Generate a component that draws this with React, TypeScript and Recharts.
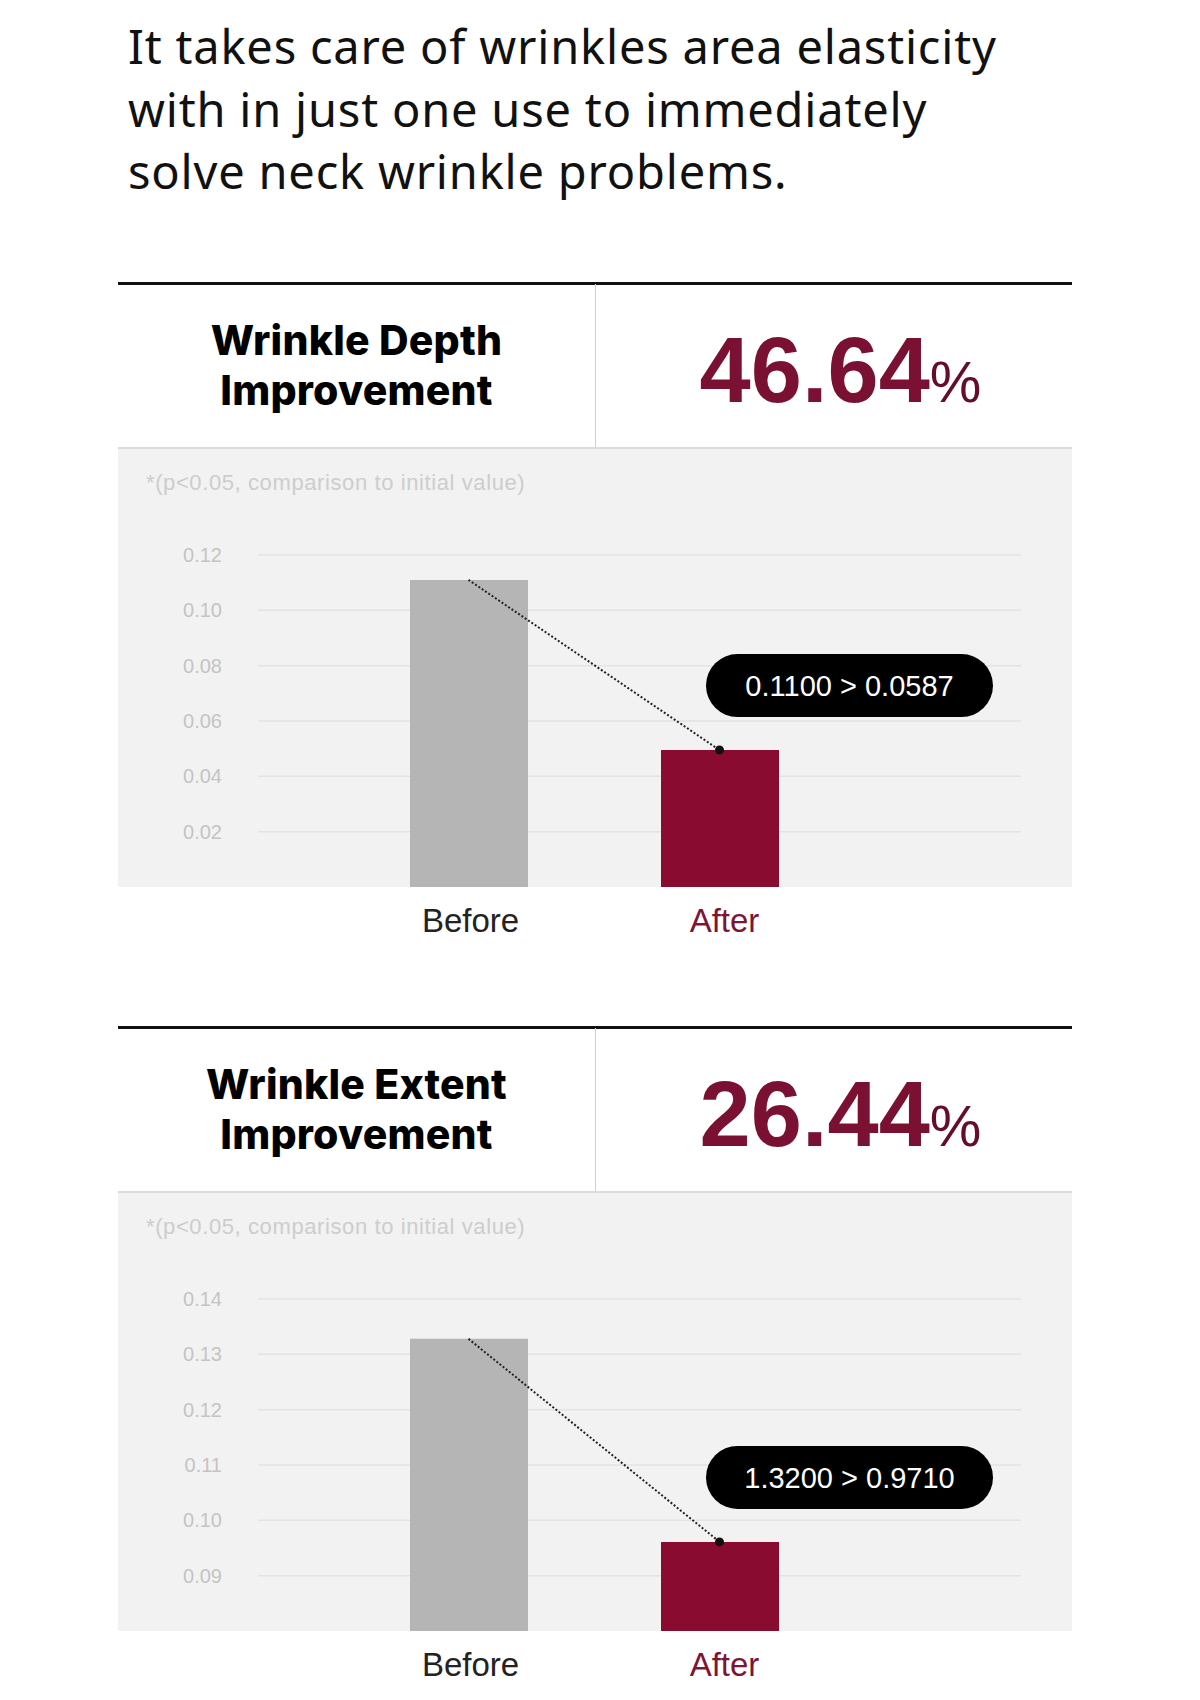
import { Bar, CartesianGrid, Cell, ComposedChart, LabelList, Line, XAxis, YAxis } from "recharts";

const categories = ["Before", "After"];

const depthValues = [0.111, 0.0495];
const depthTicks = [0.02, 0.04, 0.06, 0.08, 0.1, 0.12];
const depthDomain = [0, 0.12];
const depthTitle = ["Wrinkle Depth", "Improvement"];
const depthRate = "46.64";
const depthCompare = "0.1100 > 0.0587";

const extentValues = [0.1328, 0.0961];
const extentTicks = [0.09, 0.1, 0.11, 0.12, 0.13, 0.14];
const extentDomain = [0.08, 0.14];
const extentTitle = ["Wrinkle Extent", "Improvement"];
const extentRate = "26.44";
const extentCompare = "1.3200 > 0.9710";

const headline = [
  "It takes care of wrinkles area elasticity",
  "with in just one use to immediately",
  "solve neck wrinkle problems.",
];
const note = "*(p<0.05, comparison to initial value)";

const barColors = ["#b5b5b5", "#8a0b30"];
const labelColors = ["#222222", "#7d1535"];
const SANS = "'Liberation Sans', Arial, sans-serif";

interface SectionProps {
  top: number;
  title: string[];
  rate: string;
  values: number[];
  ticks: number[];
  domain: number[];
  compare: string;
}

function Section({ top, title, rate, values, ticks, domain, compare }: SectionProps) {
  const data = categories.map((name, i) => ({ name, value: values[i] }));

  const renderDot = (p: any) => {
    if (p.index !== 1) return <g key={`d${p.index}`} />;
    return <circle key={`d${p.index}`} cx={p.cx} cy={p.cy} r={4.5} fill="#111" />;
  };

  const renderPill = (p: any) => {
    if (p.index !== 1) return null;
    const px = Number(p.x) + 45;
    const py = Number(p.y) - 96;
    return (
      <g>
        <rect x={px} y={py} width={287} height={63} rx={31.5} fill="#000" />
        <text x={px + 143.5} y={py + 32} textAnchor="middle" dominantBaseline="central"
          fill="#fff" fontSize={29} fontFamily={SANS}>{compare}</text>
      </g>
    );
  };

  const renderXTick = (p: any) => {
    const i = categories.indexOf(p.payload.value);
    return (
      <text x={p.x} y={p.y} dx={i === 1 ? 5 : 2} dy={45} textAnchor="middle" fill={labelColors[i]}
        fontSize={33} fontFamily={SANS}>{p.payload.value}</text>
    );
  };

  return (
    <div style={{ position: "absolute", left: 0, top, width: 1200, height: 690 }}>
      <div style={{ position: "absolute", left: 118, top: -2, width: 954, height: 3, background: "#111" }} />
      <div style={{ position: "absolute", left: 595, top: 0, width: 1, height: 165, background: "#cfcfcf" }} />
      <div style={{ position: "absolute", left: 118, top: 163, width: 954, height: 2, background: "#dddddd" }} />
      <div style={{ position: "absolute", left: 118, top: 165, width: 954, height: 438, background: "#f2f2f2" }} />
      <div style={{ position: "absolute", left: 118, top: 31, width: 477, textAlign: "center",
        fontFamily: "Inter, sans-serif", fontWeight: 800, fontSize: 41, lineHeight: "50px",
        color: "#000", letterSpacing: 0.2 }}>
        {title.map((t) => <div key={t}>{t}</div>)}
      </div>
      <div style={{ position: "absolute", left: 602, top: 36, width: 477, textAlign: "center",
        fontFamily: SANS, fontWeight: 700, color: "#7b1132", lineHeight: "100px", whiteSpace: "nowrap" }}>
        <span style={{ fontSize: 92 }}>{rate}</span>
        <span style={{ fontSize: 58, fontWeight: 400, color: "#650d29" }}>%</span>
      </div>
      <div style={{ position: "absolute", left: 146, top: 186, fontFamily: SANS, fontSize: 22,
        lineHeight: "26px", color: "#cdcdcd", letterSpacing: 0.6, whiteSpace: "nowrap" }}>{note}</div>
      <div style={{ position: "absolute", left: 118, top: 165 }}>
        <ComposedChart width={954} height={520} data={data} margin={{ top: 106, right: 51, left: 0, bottom: 0 }}>
          <CartesianGrid vertical={false} horizontalValues={ticks} stroke="#e3e3e3" strokeWidth={1.5} />
          <XAxis dataKey="name" axisLine={false} tickLine={false} tickSize={0} tickMargin={0}
            height={82} padding={{ left: 85, right: 176 }} tick={renderXTick} interval={0} />
          <YAxis type="number" domain={domain} ticks={ticks} width={140} axisLine={false} tickLine={false}
            tickSize={0} tickMargin={36} tickFormatter={(v: number) => v.toFixed(2)}
            tick={{ fill: "#c4c4c4", fontSize: 20, fontFamily: SANS }} />
          <Bar dataKey="value" barSize={118} isAnimationActive={false}>
            {data.map((d, i) => <Cell key={d.name} fill={barColors[i]} />)}
            <LabelList dataKey="value" content={renderPill} />
          </Bar>
          <Line type="linear" dataKey="value" stroke="#222" strokeWidth={2} strokeDasharray="2 2"
            dot={renderDot} activeDot={false} isAnimationActive={false} />
        </ComposedChart>
      </div>
    </div>
  );
}

export default function App() {
  return (
    <div style={{ position: "absolute", left: 0, top: 0, width: 1200, height: 1700, background: "#fff", overflow: "hidden" }}>
      <div style={{ position: "absolute", left: 128, top: 15, fontFamily: "'Noto Sans', sans-serif",
        fontSize: 47, lineHeight: "62.5px", color: "#111", letterSpacing: 0.8, whiteSpace: "nowrap" }}>
        {headline.map((l) => <div key={l}>{l}</div>)}
      </div>
      <Section top={284} title={depthTitle} rate={depthRate} values={depthValues} ticks={depthTicks}
        domain={depthDomain} compare={depthCompare} />
      <Section top={1028} title={extentTitle} rate={extentRate} values={extentValues} ticks={extentTicks}
        domain={extentDomain} compare={extentCompare} />
    </div>
  );
}
